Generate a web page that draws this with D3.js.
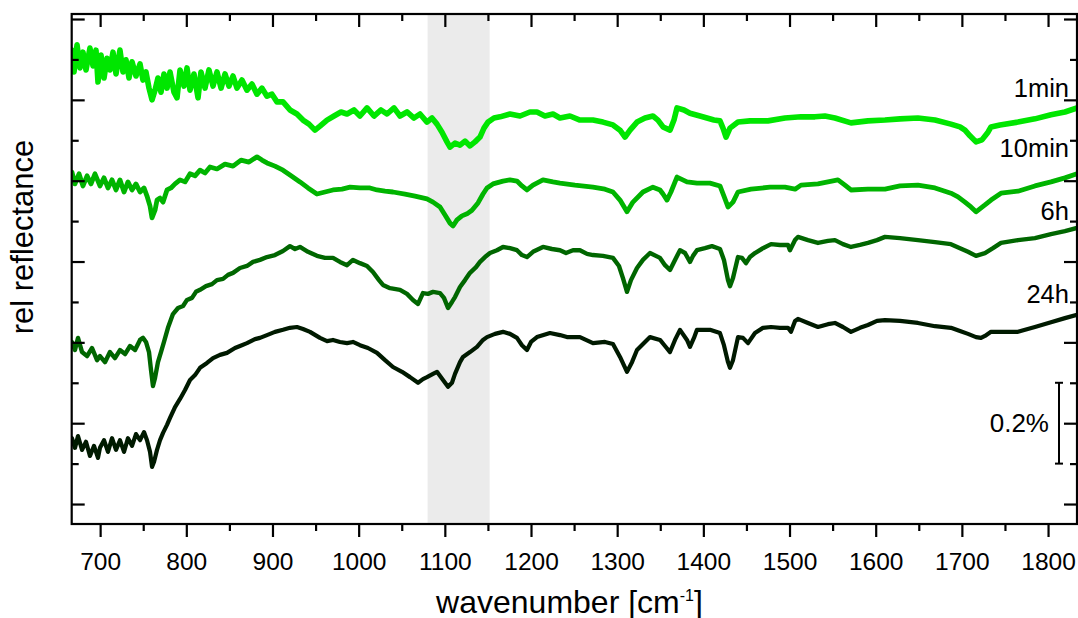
<!DOCTYPE html>
<html><head><meta charset="utf-8">
<script src="https://cdn.jsdelivr.net/npm/d3@7"></script>
<style>
body{margin:0;background:#fff}
svg{display:block}
text{font-family:"Liberation Sans",Arial,Helvetica,sans-serif;fill:#000}
</style>
</head><body>
<svg id="chart" width="1078" height="618"></svg>
<script>
// ---- data (wavenumber [cm^-1], relative reflectance in units of 0.01 %) ----
const xMajorTicks = [700,800,900,1000,1100,1200,1300,1400,1500,1600,1700,1800];
const xMinorTicks = [750,850,950,1050,1150,1250,1350,1450,1550,1650,1750];
const yMajorTicks = [0,20,40,60,80,100,120];
const yMinorTicks = [10,30,50,70,90,110];
const xDomain = [667, 1833.6];
const yDomain = [-4.94, 121.24];
const shadedBand = [1080, 1152];
const scaleBarRange = [10, 30];      // 0.2 %
const scaleBarLabel = "0.2%";
const seriesNames = ["1min","10min","6h","24h"];
const seriesColors = ["#00e600","#00b400","#006600","#001a00"];
const labelValues = [100.7, 85.9, 70.3, 49.7];

const s1min = [[667.3,112.3],[669.7,106.9],[673.2,113.6],[676.6,107.9],[680.1,111.8],[683.6,107.4],[688.2,112.8],[691.7,108.4],[695.2,112.3],[697.5,104.4],[701.0,111.1],[704.5,105.4],[708.0,110.3],[711.4,107.4],[714.9,111.8],[718.4,106.4],[723.0,112.3],[726.5,106.9],[730.0,109.9],[733.5,105.4],[737.0,109.4],[741.6,105.9],[746.3,108.9],[749.7,104.9],[753.2,106.9],[756.7,102.9],[760.2,100.0],[763.7,102.4],[767.1,105.4],[770.6,101.9],[774.1,106.4],[777.6,102.9],[781.1,106.9],[785.7,101.9],[789.2,100.5],[792.7,107.4],[797.3,103.4],[800.8,107.9],[804.3,102.4],[808.9,106.4],[813.6,100.5],[817.0,106.9],[821.7,102.9],[826.3,107.4],[831.0,103.4],[835.6,106.9],[840.3,102.9],[844.9,106.4],[849.5,103.4],[854.2,105.9],[858.8,102.9],[864.6,104.9],[870.4,102.4],[876.2,103.9],[882.0,101.4],[887.8,102.9],[893.6,100.9],[899.4,101.4],[905.2,99.5],[912.2,99.5],[920.3,97.5],[928.4,96.5],[935.4,95.0],[942.4,94.0],[949.3,92.5],[955.1,93.5],[963.3,95.0],[971.4,96.0],[979.5,97.0],[986.5,96.5],[994.6,97.5],[1001.5,96.0],[1009.7,98.0],[1017.8,96.0],[1025.9,97.5],[1032.9,96.5],[1041.0,98.0],[1048.0,96.0],[1056.1,97.0],[1064.2,95.5],[1071.2,96.5],[1079.3,94.5],[1085.1,95.5],[1090.9,94.0],[1096.7,92.0],[1102.5,89.6],[1106.0,88.3],[1111.8,89.3],[1117.6,88.8],[1123.4,89.8],[1129.2,88.6],[1135.0,89.6],[1140.8,90.8],[1145.4,93.0],[1150.1,94.5],[1157.0,95.5],[1164.0,95.8],[1175.6,96.5],[1187.2,96.0],[1198.8,97.0],[1206.9,97.0],[1216.2,96.0],[1225.5,96.5],[1233.6,95.5],[1245.2,96.0],[1256.8,95.0],[1271.9,95.0],[1283.5,94.5],[1295.1,93.8],[1303.3,92.5],[1309.1,90.8],[1314.9,92.5],[1323.0,94.5],[1332.3,95.5],[1341.5,96.0],[1347.3,95.0],[1353.2,93.3],[1361.3,92.5],[1365.9,95.0],[1369.4,98.0],[1377.5,97.5],[1384.5,96.7],[1396.1,96.0],[1404.2,95.5],[1412.3,95.0],[1419.3,94.8],[1422.8,93.0],[1426.3,90.8],[1430.9,93.0],[1440.2,94.5],[1454.1,94.8],[1475.0,94.8],[1494.7,95.5],[1513.3,95.8],[1529.5,95.8],[1541.1,96.0],[1552.7,95.5],[1571.3,94.3],[1591.0,94.8],[1610.8,95.0],[1628.2,95.3],[1649.0,95.5],[1668.8,95.0],[1687.3,94.0],[1697.8,93.3],[1703.6,92.5],[1709.4,91.1],[1716.4,89.6],[1723.3,90.1],[1730.3,92.0],[1733.8,93.3],[1744.2,93.8],[1765.1,94.5],[1784.8,95.3],[1803.4,96.3],[1819.6,97.0],[1833.6,98.0]];

const s10min = [[667.3,82.1],[670.8,79.2],[675.5,81.7],[680.1,78.7],[684.8,81.2],[689.4,79.2],[694.0,81.7],[699.8,78.7],[704.5,80.7],[709.1,78.2],[713.8,80.2],[718.4,77.7],[723.0,80.2],[727.7,77.2],[732.3,79.7],[737.0,77.7],[741.6,79.2],[746.3,77.2],[750.9,78.2],[754.4,76.2],[757.9,73.7],[760.2,70.8],[763.7,72.7],[766.0,75.2],[769.5,75.7],[773.0,74.7],[777.6,77.7],[782.2,78.2],[786.9,79.2],[792.7,80.2],[798.5,79.7],[804.3,81.7],[810.1,81.2],[815.9,82.6],[821.7,81.9],[827.5,83.4],[835.6,82.9],[844.9,84.1],[854.2,83.6],[863.5,85.1],[872.7,84.6],[882.0,85.9],[887.8,85.1],[893.6,84.4],[902.9,83.6],[912.2,82.6],[920.3,81.4],[931.9,79.7],[941.2,78.2],[951.6,76.7],[960.9,77.2],[970.2,77.7],[980.7,77.9],[990.0,78.4],[1001.5,78.2],[1013.1,78.2],[1021.3,77.7],[1030.6,77.4],[1039.8,77.2],[1053.8,76.7],[1065.4,76.2],[1079.3,75.5],[1086.3,74.7],[1094.4,73.5],[1100.2,71.5],[1106.0,69.5],[1109.5,68.8],[1114.1,70.3],[1119.9,71.3],[1125.7,71.8],[1131.5,72.7],[1138.5,74.5],[1144.3,76.7],[1148.9,78.2],[1155.9,79.2],[1167.5,79.9],[1175.6,80.2],[1183.7,79.9],[1189.5,78.7],[1195.3,77.7],[1202.3,78.9],[1213.9,80.2],[1225.5,79.7],[1233.6,79.4],[1251.0,78.9],[1271.9,78.4],[1285.8,77.9],[1295.1,77.2],[1303.3,75.2],[1311.4,72.3],[1318.3,74.7],[1329.9,77.2],[1341.5,78.4],[1349.7,77.7],[1353.2,76.7],[1357.8,75.2],[1362.4,77.2],[1369.4,80.9],[1381.0,79.7],[1392.6,79.4],[1407.7,79.4],[1419.3,78.7],[1423.9,76.2],[1428.6,73.5],[1434.4,74.7],[1440.2,77.2],[1455.3,77.9],[1477.3,78.4],[1494.7,78.4],[1506.4,77.9],[1513.3,78.9],[1533.0,79.2],[1556.2,80.2],[1564.3,78.9],[1571.3,77.7],[1591.0,77.9],[1610.8,77.9],[1628.2,78.7],[1649.0,78.9],[1668.8,78.2],[1687.3,76.9],[1695.5,76.0],[1703.6,74.7],[1710.5,73.5],[1716.4,72.3],[1726.8,74.0],[1733.8,75.2],[1745.4,76.9],[1765.1,77.4],[1784.8,78.7],[1803.4,79.7],[1819.6,80.7],[1833.6,81.7]];

const s6h = [[667.3,40.1],[670.8,38.1],[674.3,41.1],[679.0,37.6],[684.8,36.6],[690.6,38.6],[696.4,35.6],[699.8,36.6],[705.6,35.1],[711.4,37.6],[717.2,36.1],[723.0,38.1],[728.9,37.1],[734.7,39.1],[740.5,38.1],[746.3,40.6],[749.7,41.1],[753.2,40.1],[756.7,37.6],[759.0,33.2],[761.3,29.2],[763.7,31.2],[767.1,35.1],[770.6,37.6],[774.1,40.1],[778.7,43.6],[784.5,47.0],[790.4,48.5],[796.2,49.0],[800.8,50.5],[806.6,51.0],[811.2,52.5],[815.9,53.0],[822.8,53.9],[829.8,54.4],[835.6,55.4],[842.6,55.7],[848.4,56.7],[854.2,57.2],[862.3,58.4],[870.4,58.9],[877.4,59.9],[885.5,60.4],[893.6,61.1],[902.9,61.6],[912.2,62.6],[920.3,63.8],[926.1,63.1],[931.9,63.6],[941.2,62.4],[951.6,61.4],[960.9,60.9],[970.2,60.9],[978.3,59.9],[986.5,59.1],[993.4,60.4],[1001.5,59.6],[1009.7,58.9],[1016.6,57.4],[1023.6,55.4],[1028.2,54.2],[1036.4,53.4],[1048.0,53.0],[1056.1,52.0],[1063.0,50.5],[1068.9,49.5],[1074.6,52.2],[1080.5,52.0],[1086.3,52.5],[1094.4,52.2],[1099.0,51.0],[1103.7,48.5],[1108.3,50.0],[1111.8,51.2],[1117.6,53.7],[1123.4,55.4],[1129.2,57.2],[1136.2,58.6],[1140.8,59.9],[1146.6,61.1],[1152.4,62.1],[1160.5,62.8],[1167.5,63.6],[1175.6,63.3],[1183.7,62.8],[1189.5,61.6],[1195.3,61.1],[1202.3,62.4],[1213.9,63.6],[1224.3,63.1],[1233.6,62.8],[1240.6,62.1],[1248.7,62.8],[1256.8,62.8],[1265.0,61.9],[1271.9,61.6],[1283.5,61.4],[1295.1,60.9],[1302.1,58.9],[1306.7,55.9],[1311.4,52.5],[1316.0,55.4],[1323.0,58.4],[1329.9,60.4],[1338.1,62.1],[1349.7,60.9],[1355.5,59.1],[1361.3,57.9],[1367.1,60.4],[1372.9,62.8],[1378.7,62.1],[1384.5,59.9],[1388.0,61.4],[1392.6,62.8],[1401.9,63.3],[1410.0,63.8],[1419.3,63.1],[1423.9,60.4],[1428.6,55.4],[1430.9,53.9],[1434.4,55.9],[1440.2,61.1],[1444.8,60.9],[1449.5,59.6],[1454.1,61.1],[1459.9,62.1],[1469.2,63.3],[1478.5,64.3],[1488.9,64.1],[1498.2,64.1],[1500.5,62.8],[1506.4,65.3],[1509.8,66.1],[1521.4,65.3],[1533.0,64.6],[1544.6,65.1],[1552.7,65.3],[1562.0,64.3],[1571.3,63.6],[1581.8,64.1],[1591.0,64.6],[1601.5,65.3],[1610.8,66.1],[1628.2,65.8],[1649.0,65.3],[1668.8,64.8],[1687.3,64.3],[1697.8,63.3],[1707.1,62.4],[1716.4,61.4],[1726.8,62.1],[1736.1,63.3],[1745.4,64.6],[1765.1,65.3],[1784.8,65.8],[1803.4,66.8],[1819.6,67.5],[1833.6,68.3]];

const s24h = [[667.3,16.3],[670.8,13.9],[674.3,16.8],[679.0,13.4],[683.6,15.4],[688.2,11.9],[692.9,14.4],[697.5,11.4],[699.8,13.9],[704.5,15.8],[709.1,12.9],[713.8,16.3],[718.4,13.4],[723.0,15.8],[727.7,12.9],[732.3,16.3],[737.0,14.4],[741.6,17.3],[746.3,15.8],[750.9,17.8],[754.4,15.8],[757.9,12.9],[760.2,9.2],[762.5,10.4],[766.0,13.4],[769.5,15.8],[773.0,17.6],[777.6,19.6],[781.1,21.3],[786.9,24.0],[792.7,26.0],[798.5,28.2],[804.3,30.7],[810.1,31.9],[815.9,33.7],[824.0,34.9],[831.0,36.1],[839.1,36.9],[847.2,37.4],[856.5,38.6],[862.3,39.1],[870.4,39.8],[879.7,40.8],[885.5,41.1],[893.6,41.8],[902.9,42.6],[912.2,43.1],[920.3,43.6],[928.4,43.8],[935.4,43.3],[943.5,42.6],[955.1,41.1],[963.3,40.3],[970.2,40.6],[978.3,40.1],[986.5,39.8],[993.4,40.1],[1001.5,39.3],[1010.8,38.6],[1021.3,37.4],[1030.6,35.6],[1039.8,33.9],[1050.3,32.7],[1059.6,31.4],[1068.9,30.0],[1074.6,30.9],[1079.3,31.4],[1086.3,32.2],[1090.9,32.7],[1097.9,30.7],[1103.7,29.0],[1108.3,30.0],[1111.8,32.2],[1117.6,35.1],[1121.1,36.4],[1129.2,37.6],[1137.3,38.9],[1144.3,40.6],[1148.9,41.3],[1158.2,42.1],[1167.5,42.6],[1175.6,42.1],[1183.7,41.1],[1189.5,39.3],[1195.3,38.1],[1200.0,40.1],[1206.9,41.3],[1222.0,42.3],[1233.6,41.8],[1241.7,41.3],[1256.8,41.3],[1271.9,39.8],[1285.8,40.1],[1295.1,39.6],[1303.3,36.4],[1311.4,32.7],[1317.2,35.1],[1323.0,38.1],[1332.3,40.1],[1338.1,41.3],[1349.7,40.6],[1355.5,39.1],[1361.3,37.6],[1367.1,40.6],[1372.9,43.1],[1381.0,40.6],[1384.5,38.9],[1389.1,41.1],[1392.6,43.1],[1407.7,43.1],[1419.3,42.3],[1423.9,39.3],[1428.6,35.1],[1430.9,33.7],[1434.4,35.6],[1440.2,41.3],[1446.0,41.1],[1451.8,39.8],[1459.9,42.3],[1469.2,43.6],[1478.5,43.8],[1488.9,43.6],[1498.2,43.6],[1501.7,42.6],[1506.4,45.3],[1509.8,45.8],[1521.4,44.8],[1533.0,43.8],[1544.6,44.5],[1552.7,44.8],[1562.0,43.8],[1571.3,42.6],[1581.8,43.6],[1591.0,44.3],[1601.5,45.3],[1610.8,45.5],[1628.2,45.3],[1649.0,44.8],[1668.8,44.0],[1687.3,43.6],[1697.8,42.8],[1707.1,42.1],[1716.4,41.3],[1722.2,41.1],[1726.8,41.6],[1733.8,42.6],[1745.4,42.6],[1765.1,42.6],[1784.8,43.8],[1803.4,45.0],[1819.6,46.0],[1833.6,46.8]];

const seriesData = [s1min, s10min, s6h, s24h];

// ---- layout / styles ----
const L = 71.7, R = 1077, T = 14, B = 524;
const seriesWidths = [5.6, 4.8, 4.4, 4.2];

const svg = d3.select("#chart");
const x = d3.scaleLinear().domain(xDomain).range([L, R]);
const y = d3.scaleLinear().domain(yDomain).range([B, T]);

svg.append("defs").append("clipPath").attr("id","clip")
  .append("rect").attr("x",L).attr("y",T).attr("width",R-L).attr("height",B-T);

// shaded band
svg.append("rect")
  .attr("x", x(shadedBand[0])).attr("y", T)
  .attr("width", x(shadedBand[1]) - x(shadedBand[0]))
  .attr("height", B - T)
  .attr("fill", "#ebebeb");

// lines
const line = d3.line().x(d => x(d[0])).y(d => y(d[1]));
const gLines = svg.append("g").attr("clip-path","url(#clip)");
seriesData.forEach((s, i) => {
  gLines.append("path").datum(s)
    .attr("d", line)
    .attr("fill","none")
    .attr("stroke", seriesColors[i])
    .attr("stroke-width", seriesWidths[i])
    .attr("stroke-linejoin","round")
    .attr("stroke-linecap","round");
});

// axes
function styleAxis(g){
  g.select(".domain").remove();
  g.selectAll(".tick line").attr("stroke","#000").attr("stroke-width",2.2);
}
const fmt = d3.format("d");
svg.append("g").attr("transform",`translate(0,${B})`)
  .call(d3.axisBottom(x).tickValues(xMajorTicks).tickSize(13).tickFormat(fmt))
  .call(styleAxis)
  .call(g => g.selectAll(".tick text").attr("y",46).attr("dy",0)
    .attr("font-size",24.5).attr("font-family",'"Liberation Sans",Arial,sans-serif').attr("fill","#000"));
svg.append("g").attr("transform",`translate(0,${B})`)
  .call(d3.axisBottom(x).tickValues(xMinorTicks).tickSize(7).tickFormat(""))
  .call(styleAxis);
svg.append("g").attr("transform",`translate(0,${T})`)
  .call(d3.axisTop(x).tickValues(xMajorTicks).tickSize(-13).tickFormat(""))
  .call(styleAxis);
svg.append("g").attr("transform",`translate(0,${T})`)
  .call(d3.axisTop(x).tickValues(xMinorTicks).tickSize(-7).tickFormat(""))
  .call(styleAxis);
svg.append("g").attr("transform",`translate(${L},0)`)
  .call(d3.axisLeft(y).tickValues(yMajorTicks).tickSize(-13).tickFormat(""))
  .call(styleAxis);
svg.append("g").attr("transform",`translate(${L},0)`)
  .call(d3.axisLeft(y).tickValues(yMinorTicks).tickSize(-7).tickFormat(""))
  .call(styleAxis);
svg.append("g").attr("transform",`translate(${R},0)`)
  .call(d3.axisRight(y).tickValues(yMajorTicks).tickSize(-13).tickFormat(""))
  .call(styleAxis);
svg.append("g").attr("transform",`translate(${R},0)`)
  .call(d3.axisRight(y).tickValues(yMinorTicks).tickSize(-7).tickFormat(""))
  .call(styleAxis);

// frame
svg.append("rect").attr("x",L).attr("y",T).attr("width",R-L).attr("height",B-T)
  .attr("fill","none").attr("stroke","#000").attr("stroke-width",2.2);

// series labels
const labelX = x(1824.3);
seriesNames.forEach((n,i) => {
  svg.append("text").attr("x", labelX).attr("y", y(labelValues[i]))
    .attr("text-anchor","end").attr("font-size",25.5).text(n);
});

// scale bar
const sbX = x(1812.7);
const sb = svg.append("g").attr("stroke","#000").attr("stroke-width",2);
sb.append("line").attr("x1",sbX).attr("x2",sbX).attr("y1",y(scaleBarRange[0])).attr("y2",y(scaleBarRange[1]));
scaleBarRange.forEach(v => sb.append("line").attr("x1",sbX-4).attr("x2",sbX+4).attr("y1",y(v)).attr("y2",y(v)));
svg.append("text").attr("x", sbX-10).attr("y", y((scaleBarRange[0]+scaleBarRange[1])/2)+9)
  .attr("text-anchor","end").attr("font-size",26).text(scaleBarLabel);

// axis titles
svg.append("text").attr("transform",`translate(33,237) rotate(-90)`)
  .attr("text-anchor","middle").attr("font-size",31).text("rel reflectance");
const xt = svg.append("text").attr("x", 569.5).attr("y", 613)
  .attr("text-anchor","middle").attr("font-size",32);
xt.append("tspan").text("wavenumber [cm");
xt.append("tspan").attr("font-size",16).attr("dy",-12).text("-1");
xt.append("tspan").attr("dy",12).text("]");
</script>
</body></html>
